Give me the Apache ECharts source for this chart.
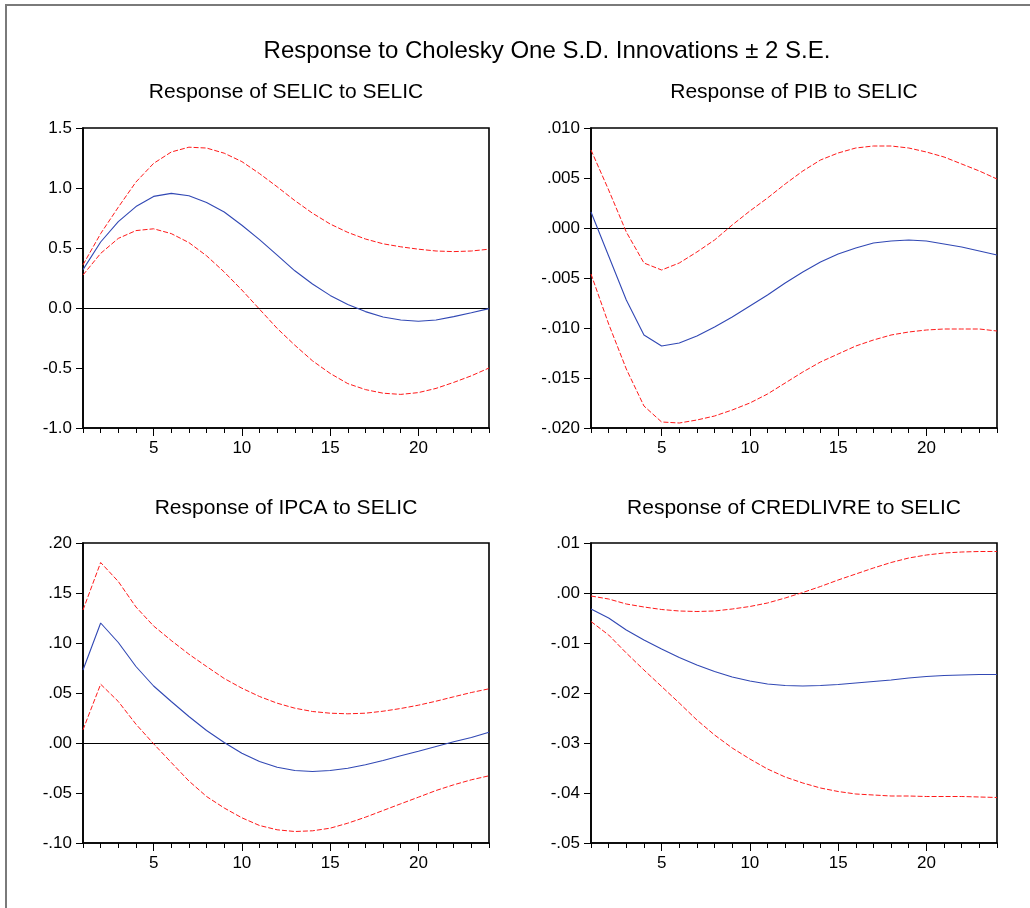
<!DOCTYPE html>
<html><head><meta charset="utf-8">
<script src="https://cdn.jsdelivr.net/npm/echarts@6/dist/echarts.min.js"></script>
<style>html,body{margin:0;padding:0;background:#fff}#c{width:1030px;height:908px}</style>
</head><body><div id="c"></div>
<script>
// ---- data ----
const periods = [1,2,3,4,5,6,7,8,9,10,11,12,13,14,15,16,17,18,19,20,21,22,23,24];
const mainTitle = "Response to Cholesky One S.D. Innovations ± 2 S.E.";
const panelTitles = ["Response of SELIC to SELIC", "Response of PIB to SELIC", "Response of IPCA to SELIC", "Response of CREDLIVRE to SELIC"];
const xLabelTicks = [5, 10, 15, 20];

const selicResp  = [0.32,0.55,0.72,0.845,0.93,0.955,0.936,0.88,0.80,0.69,0.57,0.44,0.31,0.20,0.105,0.03,-0.03,-0.075,-0.10,-0.11,-0.10,-0.072,-0.04,-0.005];
const selicUpper = [0.36,0.62,0.84,1.05,1.205,1.30,1.34,1.333,1.29,1.22,1.12,1.01,0.895,0.79,0.70,0.63,0.575,0.535,0.51,0.49,0.475,0.47,0.475,0.49];
const selicLower = [0.275,0.455,0.58,0.645,0.66,0.62,0.545,0.435,0.30,0.15,-0.01,-0.17,-0.31,-0.44,-0.545,-0.63,-0.68,-0.71,-0.72,-0.705,-0.67,-0.62,-0.565,-0.50];

const pibResp  = [0.0016,-0.0028,-0.0072,-0.0107,-0.0118,-0.0115,-0.0108,-0.0099,-0.0089,-0.0078,-0.0067,-0.0055,-0.0044,-0.0034,-0.0026,-0.0020,-0.0015,-0.0013,-0.0012,-0.0013,-0.0016,-0.0019,-0.0023,-0.0027];
const pibUpper = [0.0078,0.0038,-0.0004,-0.0035,-0.0042,-0.0035,-0.0024,-0.0012,0.0003,0.0017,0.0030,0.0044,0.0057,0.0068,0.0075,0.0080,0.0082,0.0082,0.0080,0.0076,0.0071,0.0064,0.0057,0.0049];
const pibLower = [-0.0046,-0.0096,-0.0141,-0.0178,-0.0194,-0.0195,-0.0192,-0.0188,-0.0182,-0.0175,-0.0166,-0.0155,-0.0144,-0.0134,-0.0126,-0.0118,-0.0112,-0.0107,-0.0104,-0.0102,-0.0101,-0.0101,-0.0101,-0.0103];

const ipcaResp  = [0.073,0.120,0.1005,0.0765,0.057,0.0415,0.0265,0.0125,0.0005,-0.0102,-0.0185,-0.0242,-0.0275,-0.0285,-0.0275,-0.0252,-0.0218,-0.0175,-0.0128,-0.0082,-0.0035,0.0012,0.0055,0.0108];
const ipcaUpper = [0.133,0.1805,0.1615,0.136,0.117,0.1025,0.0888,0.0765,0.0645,0.0548,0.0465,0.0398,0.0348,0.0315,0.0298,0.0292,0.0298,0.0318,0.0345,0.0378,0.0418,0.0462,0.0505,0.0542];
const ipcaLower = [0.0132,0.0588,0.0415,0.0188,-0.0008,-0.0195,-0.0380,-0.0535,-0.0650,-0.0748,-0.0825,-0.0868,-0.0885,-0.0878,-0.0852,-0.0802,-0.0742,-0.0675,-0.0608,-0.0542,-0.0475,-0.0418,-0.0368,-0.0328];

const credResp  = [-0.0032,-0.0050,-0.0074,-0.0094,-0.0112,-0.0129,-0.0144,-0.0157,-0.0168,-0.0176,-0.0182,-0.0185,-0.0186,-0.0185,-0.0183,-0.0180,-0.0177,-0.0174,-0.0170,-0.0167,-0.0165,-0.0164,-0.0163,-0.0163];
const credUpper = [-0.0006,-0.0012,-0.0022,-0.0028,-0.0033,-0.0036,-0.0037,-0.0036,-0.0032,-0.0027,-0.0020,-0.0010,0.0001,0.0013,0.0026,0.0038,0.0050,0.0061,0.0070,0.0076,0.0080,0.0082,0.0083,0.0083];
const credLower = [-0.0057,-0.0084,-0.0120,-0.0154,-0.0187,-0.0220,-0.0254,-0.0284,-0.0310,-0.0332,-0.0352,-0.0368,-0.0380,-0.0390,-0.0397,-0.0402,-0.0404,-0.0406,-0.0406,-0.0407,-0.0407,-0.0407,-0.0408,-0.0409];

const yMins = [-1.0, -0.020, -0.10, -0.05];
const yMaxs = [1.5, 0.010, 0.20, 0.01];
const yIntervals = [0.5, 0.005, 0.05, 0.01];
const yDecimals = [1, 3, 2, 2];

// ---- chart ----
const FONT = "'Liberation Sans', Arial, sans-serif";
const panels = [
  [selicResp, selicUpper, selicLower],
  [pibResp, pibUpper, pibLower],
  [ipcaResp, ipcaUpper, ipcaLower],
  [credResp, credUpper, credLower]
];
const grids = [
  {left: 83, top: 128, width: 406, height: 300},
  {left: 591, top: 128, width: 406, height: 300},
  {left: 83, top: 543, width: 406, height: 300},
  {left: 591, top: 543, width: 406, height: 300}
];
const subTitleY = [92.5, 92.5, 508, 508];

function fmtY(v, d, i) {
  let s = v.toFixed(d);
  if (i > 0) s = s.replace(/^(-?)0\./, '$1.');
  if (/^-0?\.?0+$/.test(s)) s = s.replace('-', '');
  return s;
}

const option = {
  backgroundColor: '#fff',
  animation: false,
  textStyle: {fontFamily: FONT},
  title: [{
    text: mainTitle, left: 547, top: 51, textAlign: 'center', textVerticalAlign: 'middle', padding: 0,
    textStyle: {fontFamily: FONT, fontSize: 24, fontWeight: 'normal', color: '#000'}
  }].concat(panelTitles.map((t, i) => ({
    text: t, left: grids[i].left + grids[i].width / 2, top: subTitleY[i],
    textAlign: 'center', textVerticalAlign: 'middle', padding: 0,
    textStyle: {fontFamily: FONT, fontSize: 21, fontWeight: 'normal', color: '#000'}
  }))),
  graphic: [{
    type: 'rect', silent: true, z: -1,
    shape: {x: 6, y: 5, width: 1100, height: 1000},
    style: {fill: 'none', stroke: '#7a7a7a', lineWidth: 2}
  }],
  grid: grids.map(g => Object.assign({show: true, borderColor: '#000', borderWidth: 1.6, backgroundColor: 'transparent'}, g)),
  xAxis: [],
  yAxis: [],
  series: []
};

panels.forEach((p, i) => {
  // main x axis: minor ticks each period, labels at 5,10,15,20
  option.xAxis.push({
    type: 'value', gridIndex: i, min: 1, max: 24, position: 'bottom',
    axisLine: {show: true, onZero: false, lineStyle: {color: '#000', width: 1.6}},
    axisTick: {show: true, inside: false, length: 5, customValues: periods, lineStyle: {color: '#000', width: 1}},
    axisLabel: {show: true, customValues: xLabelTicks, margin: 12, fontSize: 17, color: '#000', fontFamily: FONT},
    splitLine: {show: false}
  });
  // major tick marks (slightly longer)
  option.xAxis.push({
    type: 'value', gridIndex: i, min: 1, max: 24, position: 'bottom',
    axisLine: {show: false, onZero: false},
    axisTick: {show: true, inside: false, length: 8, customValues: xLabelTicks, lineStyle: {color: '#000', width: 1}},
    axisLabel: {show: false},
    splitLine: {show: false}
  });
  option.yAxis.push({
    type: 'value', gridIndex: i, min: yMins[i], max: yMaxs[i], interval: yIntervals[i],
    axisLine: {show: true, onZero: false, lineStyle: {color: '#000', width: 1.6}},
    axisTick: {show: true, inside: false, length: 7, lineStyle: {color: '#000', width: 1}},
    axisLabel: {margin: 11, fontSize: 17, color: '#000', fontFamily: FONT,
      formatter: v => fmtY(v, yDecimals[i], i)},
    splitLine: {show: false}
  });
  const mk = arr => periods.map((k, j) => [k, arr[j]]);
  option.series.push({
    type: 'line', xAxisIndex: 2 * i, yAxisIndex: i, data: mk(p[0]),
    symbol: 'none', smooth: false, z: 3,
    lineStyle: {color: '#3148b4', width: 1.1, type: 'solid'},
    markLine: {silent: true, symbol: 'none', label: {show: false},
      lineStyle: {color: '#000', width: 1.1, type: 'solid'}, data: [{yAxis: 0}], z: 2}
  });
  [p[1], p[2]].forEach(arr => option.series.push({
    type: 'line', xAxisIndex: 2 * i, yAxisIndex: i, data: mk(arr),
    symbol: 'none', smooth: false, z: 3,
    lineStyle: {color: '#ff1a1a', width: 1, type: [5, 2]}
  }));
});

const chart = echarts.init(document.getElementById('c'), null, {renderer: 'canvas'});
chart.setOption(option);
</script>
</body></html>
